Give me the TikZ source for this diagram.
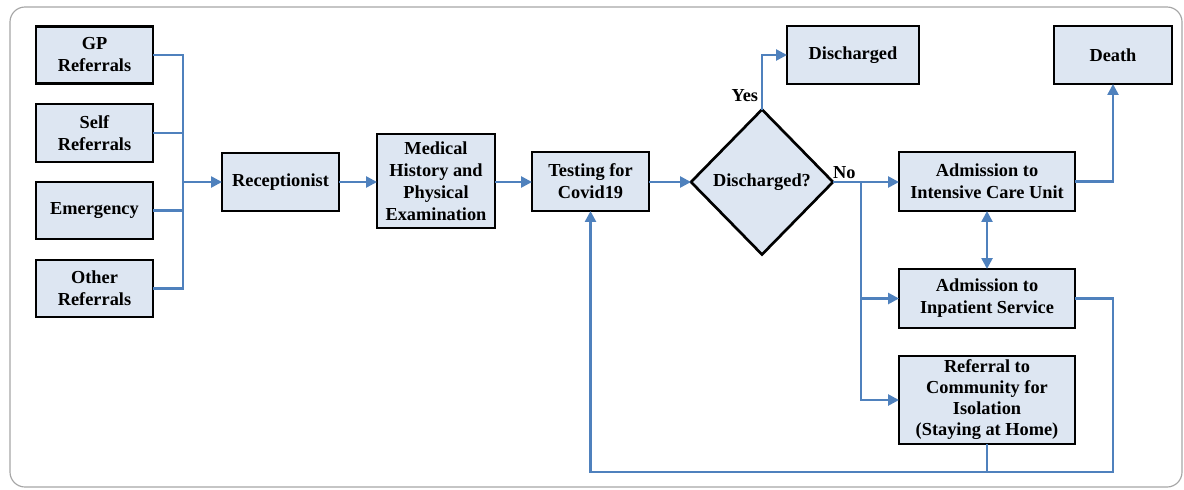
\documentclass[tikz,border=0pt]{standalone}
\usepackage{fontspec}
\setmainfont{Liberation Serif}[BoldFont={Liberation Serif Bold}]
\usetikzlibrary{shapes.geometric,arrows.meta}
\definecolor{boxfill}{RGB}{221,230,242}
\definecolor{lineblue}{RGB}{79,129,189}
\begin{document}
\begin{tikzpicture}[x=0.6pt,y=-0.6pt,
  box/.style={draw=black,line width=1.6pt,fill=boxfill,inner sep=0pt,outer sep=0pt,
    align=center,font=\fontsize{11}{13.2}\selectfont\bfseries},
  dec/.style={diamond,draw=black,line width=1.6pt,fill=boxfill,inner sep=0pt,outer sep=0pt,
    font=\fontsize{11}{13.2}\selectfont\bfseries},
  conn/.style={draw=lineblue,line width=1.5pt},
  arr/.style={conn,-{Triangle[length=6.5pt,width=6.5pt]}},
  darr/.style={conn,{Triangle[length=6.5pt,width=6.5pt]}-{Triangle[length=6.5pt,width=6.5pt]}},
  lbl/.style={font=\fontsize{11}{13.2}\selectfont\bfseries,inner sep=1pt}]
\useasboundingbox (0,0) rectangle (1184,489);
\draw[gray!70,line width=0.7pt,rounded corners=9pt] (10,7) rectangle (1182,487);
% left boxes
\node[box,minimum width=117*0.6pt,minimum height=57*0.6pt] (gp) at (94.5,55) {GP\\Referrals};
\node[box,minimum width=117*0.6pt,minimum height=58*0.6pt] (self) at (94.5,133) {Self\\Referrals};
\node[box,minimum width=117*0.6pt,minimum height=57*0.6pt] (em) at (94.5,210.5) {Emergency};
\node[box,minimum width=117*0.6pt,minimum height=57*0.6pt] (oth) at (94.5,288.5) {Other\\Referrals};
\node[box,minimum width=117*0.6pt,minimum height=58*0.6pt] (rec) at (280.5,182) {Receptionist};
\node[box,minimum width=118*0.6pt,minimum height=94*0.6pt] (med) at (436,181) {Medical\\History and\\Physical\\Examination};
\node[box,minimum width=117*0.6pt,minimum height=59*0.6pt] (test) at (590.5,181.5) {Testing for\\Covid19};
\node[dec,minimum width=142*0.6pt,minimum height=145*0.6pt] (dis) at (762,182) {Discharged?};
\node[box,minimum width=132*0.6pt,minimum height=58*0.6pt] (dout) at (853,55) {Discharged};
\node[box,minimum width=118*0.6pt,minimum height=58*0.6pt] (death) at (1113,55) {Death};
\node[box,minimum width=176*0.6pt,minimum height=59*0.6pt] (icu) at (987,181.5) {Admission to\\Intensive Care Unit};
\node[box,minimum width=176*0.6pt,minimum height=59*0.6pt] (inp) at (987,298.5) {Admission to\\Inpatient Service};
\node[box,minimum width=176*0.6pt,minimum height=88*0.6pt,font=\fontsize{11}{12.6}\selectfont\bfseries] (ref) at (987,400) {Referral to\\Community for\\Isolation\\(Staying at Home)};
% coordinates
\coordinate (jl) at (183,182);
\coordinate (jn) at (861,182);
\coordinate (bot) at (1113,472);
% left merge
\draw[conn] (gp.east) -| (jl);
\draw[conn] (self.east) -| (jl);
\draw[conn] (em.east) -| (jl);
\draw[conn] (oth.east) -| (jl);
\draw[arr] (jl) -- (jl -| rec.west);
\draw[arr] (rec.east) -- (rec.east -| med.west);
\draw[arr] (rec.east -| med.east) -- (rec.east -| test.west);
\draw[arr] (rec.east -| test.east) -- (dis.west);
% yes
\draw[arr] (dis.north) |- (dout.west);
\node[lbl,anchor=east] at (760,96) {Yes};
% no
\draw[arr] (dis.east) -- (dis.east -| icu.west);
\node[lbl,anchor=south west] at (831,181) {No};
\draw[arr] (jn) |- (inp.west);
\draw[arr] (jn) |- (ref.west);
% icu
\draw[arr] (icu.east) -| (death.south);
\draw[darr] (icu.south) -- (inp.north);
% return loop
\draw[arr] (inp.east) -| (bot) -| (test.south);
\draw[conn] (ref.south) -- (ref.south |- bot);
\end{tikzpicture}
\end{document}
